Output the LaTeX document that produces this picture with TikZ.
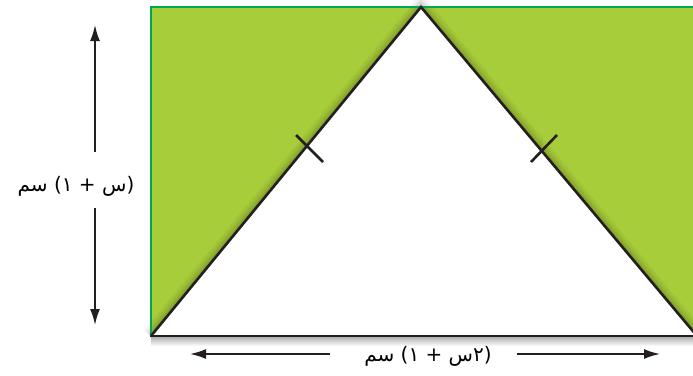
\documentclass[tikz,border=0pt]{standalone}
\usepackage{fontspec}
\newfontfamily\arabicfont[Script=Arabic]{DejaVu Sans}
\TeXXeTstate=1
\usetikzlibrary{arrows.meta,calc}
\definecolor{leaf}{HTML}{A8CD3A}
\definecolor{rim}{HTML}{00A651}
\definecolor{ink}{HTML}{231F20}
\tikzset{
  edge/.style={ink, line width=2.6pt},
  tickmark/.style={ink, line width=2.6pt},
  dimarrow/.style={ink, line width=1.8pt, -{Latex[length=16pt,width=10pt]}},
  lbl/.style={font=\arabicfont\fontsize{20}{24}\selectfont, inner sep=0pt}
}
\begin{document}
\begin{tikzpicture}[x=1pt,y=-1pt]
\useasboundingbox (0,0) rectangle (693,375);
\clip (0,0) rectangle (693,375);
\coordinate (BL) at (151,336);
\coordinate (TL) at (151,7);
\coordinate (TR) at (705,7);
\coordinate (BR) at (705,336);
\coordinate (A) at (421,7);
\coordinate (R) at (697,336);
% green background
\fill[leaf] (TL) rectangle (BR);
% soft shadow along the triangle sides
\foreach \w/\o in {18/0.04,13/0.05,9/0.06,5/0.08}
  \draw[line width=\w pt, black, opacity=\o, line join=miter] (BL) -- (A) -- (R);
% white triangle
\fill[white] (BL) -- (A) -- (R) -- cycle;
% shadow under the bottom side
\shade[top color=black!30, bottom color=white] (151,337) rectangle (705,346);
% borders
\draw[rim, line width=2.6pt] (BL) -- (TL) -- (TR);
\draw[edge] ($(BL)+(-1,0)$) -- (BR);
\draw[edge, line join=miter] (BL) -- (A) -- (R);
% equal-side tick marks
\coordinate (t1a) at (296,135);
\coordinate (t1b) at (323,162);
\coordinate (t2a) at (531,162);
\coordinate (t2b) at (557,135);
\draw[tickmark] (t1a) -- (t1b);
\draw[tickmark] (t2a) -- (t2b);
% height dimension
\node[lbl] (hlab) at (76,186) {\beginR(س + ١) سم\endR};
\coordinate (v1) at (95,25);
\coordinate (v2) at (95,152);
\coordinate (v3) at (95,208);
\coordinate (v4) at (95,325);
\draw[dimarrow] (v2) -- (v1);
\draw[dimarrow] (v3) -- (v4);
% width dimension
\node[lbl] (wlab) at (428,356) {\beginR(٢س + ١) سم\endR};
\coordinate (h1) at (190,354);
\coordinate (h2) at (330,354);
\coordinate (h3) at (517,354);
\coordinate (h4) at (660,354);
\draw[dimarrow] (h2) -- (h1);
\draw[dimarrow] (h3) -- (h4);
\end{tikzpicture}
\end{document}
